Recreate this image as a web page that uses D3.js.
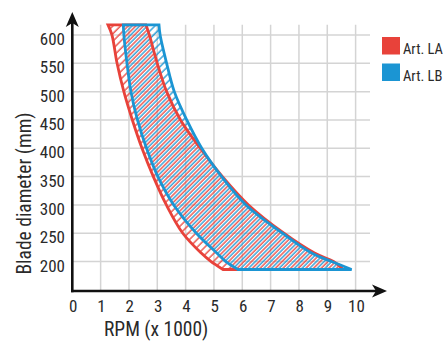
<!DOCTYPE html>
<html>
<head>
<meta charset="utf-8">
<script src="https://cdn.jsdelivr.net/npm/d3@7/dist/d3.min.js"></script>
<style>
  html, body { margin: 0; padding: 0; background: #fff; }
  text { font-family: "Liberation Sans Narrow", "Roboto Condensed", "Liberation Sans", sans-serif; }
</style>
</head>
<body>
<svg id="chart" width="443" height="341"></svg>
<script>
// ---- data ----
const diameters = [618, 600, 550, 500, 450, 400, 350, 300, 250, 215, 200, 186];
const laMin = [1.26, 1.40, 1.58, 1.82, 2.12, 2.46, 2.86, 3.32, 3.90, 4.55, 4.90, 5.32];
const laMax = [2.60, 2.72, 3.00, 3.33, 3.82, 4.52, 5.30, 6.22, 7.47, 8.55, 9.22, 9.56];
const lbMin = [1.80, 1.82, 1.93, 2.07, 2.30, 2.62, 3.02, 3.58, 4.38, 5.10, 5.42, 5.85];
const lbMax = [3.06, 3.10, 3.33, 3.60, 4.04, 4.57, 5.27, 6.13, 7.42, 8.45, 9.15, 9.86];
const xTicks = [0, 1, 2, 3, 4, 5, 6, 7, 8, 9, 10];
const yTicks = [200, 250, 300, 350, 400, 450, 500, 550, 600];
const seriesNames = ["Art. LA", "Art. LB"];
const colors = ["#e8423a", "#1b95d3"];

const svg = d3.select("#chart");
const x = d3.scaleLinear().domain([0, 10]).range([72.3, 355.6]);
const y = d3.scaleLinear().domain([148, 600]).range([291, 35]);

// patterns
const defs = svg.append("defs");
const per = 5.4;
[[0, 1.0], [1, 1.0 + per / 2]].forEach(([i, off]) => {
  const p = defs.append("pattern")
    .attr("id", "hatch" + i)
    .attr("width", per).attr("height", per)
    .attr("patternUnits", "userSpaceOnUse")
    .attr("patternTransform", "rotate(45)");
  p.append("line")
    .attr("x1", off).attr("y1", -1).attr("x2", off).attr("y2", per + 1)
    .attr("stroke", colors[i]).attr("stroke-width", 1.3);
});

// grid
const gTop = y(618);
svg.append("g").selectAll("line.h").data(yTicks).join("line")
  .attr("x1", x(0)).attr("x2", 370)
  .attr("y1", d => y(d)).attr("y2", d => y(d))
  .attr("stroke", "#d4d4d4").attr("stroke-width", 1.5);
svg.append("g").selectAll("line.v").data(xTicks.filter(d => d > 0)).join("line")
  .attr("x1", d => x(d)).attr("x2", d => x(d))
  .attr("y1", y(148)).attr("y2", gTop)
  .attr("stroke", "#d4d4d4").attr("stroke-width", 1.5);

// regions
const curve = d3.line().x(d => x(d[0])).y(d => y(d[1])).curve(d3.curveCatmullRom.alpha(0.5));
function regionPath(minArr, maxArr) {
  const left = diameters.map((d, i) => [minArr[i], d]);
  const right = diameters.map((d, i) => [maxArr[i], d]).reverse();
  return curve(left) + curve(right).replace(/^M/, "L") + "Z";
}
const paths = [regionPath(laMin, laMax), regionPath(lbMin, lbMax)];
paths.forEach((p, i) => {
  svg.append("path").attr("d", p).attr("fill", "url(#hatch" + i + ")").attr("stroke", "none");
});
paths.forEach((p, i) => {
  svg.append("path").attr("d", p).attr("fill", "none")
    .attr("stroke", colors[i]).attr("stroke-width", 2.8).attr("stroke-linejoin", "miter");
});

// axes
const axisY = y(148);
svg.append("line").attr("x1", x(0)).attr("x2", x(0)).attr("y1", axisY + 1.2).attr("y2", 22)
  .attr("stroke", "#111").attr("stroke-width", 2.6);
svg.append("line").attr("x1", x(0) - 1.2).attr("x2", 376).attr("y1", axisY).attr("y2", axisY)
  .attr("stroke", "#111").attr("stroke-width", 2.6);
function arrow(tx, ty, dx, dy) {
  const nx = -dy, ny = dx, L = 15, W = 6.5, N = 11;
  const pts = [[tx, ty], [tx - L * dx + W * nx, ty - L * dy + W * ny], [tx - N * dx, ty - N * dy], [tx - L * dx - W * nx, ty - L * dy - W * ny]];
  svg.append("path").attr("d", "M" + pts.map(p => p.join(",")).join("L") + "Z").attr("fill", "#111");
}
arrow(x(0), 12, 0, -1);
arrow(387, axisY, 1, 0);

// tick labels
svg.append("g").selectAll("text").data(yTicks).join("text")
  .attr("x", 65).attr("y", d => y(d) + 10)
  .attr("text-anchor", "end").attr("font-size", 17).attr("fill", "#2a2a2a")
  .text(d => d);
svg.append("g").selectAll("text").data(xTicks).join("text")
  .attr("x", d => x(d) + 0.8).attr("y", 311.5)
  .attr("text-anchor", "middle").attr("font-size", 17).attr("fill", "#2a2a2a")
  .text(d => d);

// axis titles
svg.append("text").attr("x", 104).attr("y", 335.5).attr("font-size", 19.5).attr("fill", "#2a2a2a")
  .text("RPM (x 1000)");
svg.append("text").attr("transform", "translate(31,193.5) rotate(-90)")
  .attr("text-anchor", "middle").attr("font-size", 19.5).attr("fill", "#2a2a2a")
  .text("Blade diameter (mm)");

// legend
const lg = svg.append("g");
seriesNames.forEach((n, i) => {
  lg.append("rect").attr("x", 382).attr("y", 37 + i * 26.5).attr("width", 18).attr("height", 17.5)
    .attr("fill", colors[i]);
  lg.append("text").attr("x", 403).attr("y", 54 + i * 26.5).attr("font-size", 14.5).attr("fill", "#2a2a2a")
    .text(n);
});
</script>
</body>
</html>
